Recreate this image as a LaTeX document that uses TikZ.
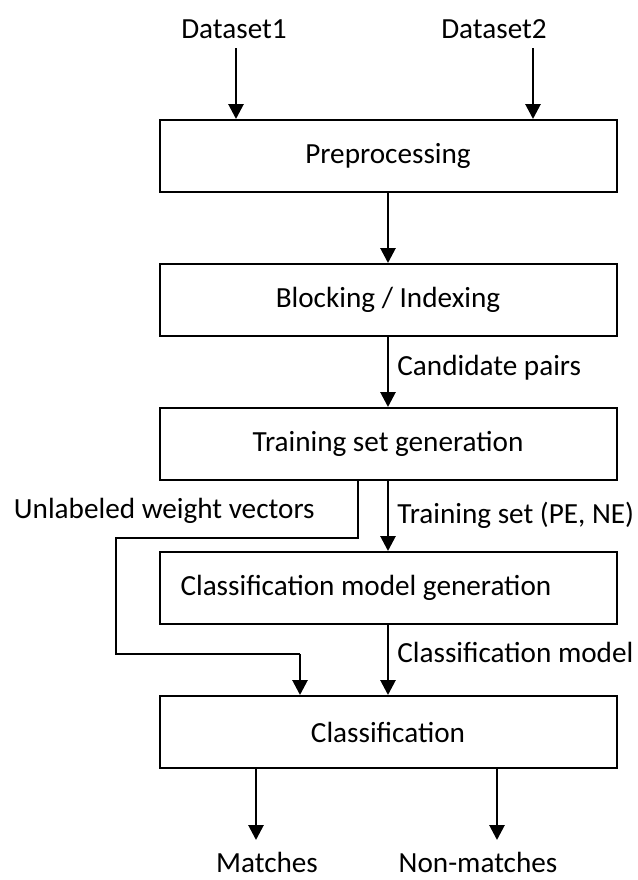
\documentclass[tikz,border=0pt]{standalone}
\usepackage{fontspec}
\setmainfont{Carlito}
\usetikzlibrary{arrows.meta}
\begin{document}
\begin{tikzpicture}[x=0.5pt,y=-0.5pt,font=\fontsize{14.6}{17}\selectfont]
\tikzstyle{etape} = [draw,line width=1pt,minimum width=228.5pt,minimum height=36pt,inner sep=0pt] %boites
\tikzstyle{fleche} = [line width=1.4pt,-{Triangle[width=7.5pt,length=7.5pt]}]
\tikzstyle{legende} = [anchor=base west,inner sep=0pt]
\useasboundingbox (0,0) rectangle (638,880);

%entrees
\draw(234,38)node[anchor=base](ds1){Dataset1};
\draw(494,38)node[anchor=base](ds2){Dataset2};
\coordinate (d1) at (236,48);
\coordinate (d2) at (533,48);

%etapes
\draw(388,156)node[etape](pre){Preprocessing};
\draw(388,300)node[etape](blk){Blocking / Indexing};
\draw(388,444)node[etape](tsg){Training set generation};
\draw(388,588)node[etape](cmg){\makebox[207.5pt][l]{Classification model generation}};
\draw(388,732)node[etape](cls){Classification};

%sorties
\draw(267,872)node[anchor=base](mat){Matches};
\draw(478,872)node[anchor=base](nmat){Non-matches};
\coordinate (m1) at (256,840);
\coordinate (m2) at (497,840);

%legendes
\draw(315,518)node[legende,anchor=base east](uwv){Unlabeled weight vectors};
\draw(397,375)node[legende](cp){Candidate pairs};
\draw(397,523)node[legende](ts){Training set (PE, NE)};
\draw(397,662)node[legende](cm){Classification model};

%fleches
\draw[fleche] (d1)--(d1 |- pre.north);
\draw[fleche] (d2)--(d2 |- pre.north);
\draw[fleche] (pre)--(blk);
\draw[fleche] (blk)--(tsg);
\draw[fleche] (tsg)--(cmg);
\draw[fleche] (cmg)--(cls);
\draw[fleche] (cls.south -| m1)--(m1);
\draw[fleche] (cls.south -| m2)--(m2);

%branche des vecteurs non etiquetes
\coordinate (b1) at (358,538);
\coordinate (b2) at (116,654);
\coordinate (b3) at (300,654);
\draw[line width=1pt] (tsg.south -| b1)--(b1)--(b1 -| b2)--(b2)--(b3);
\draw[fleche] (b3)--(b3 |- cls.north);
\end{tikzpicture}
\end{document}
